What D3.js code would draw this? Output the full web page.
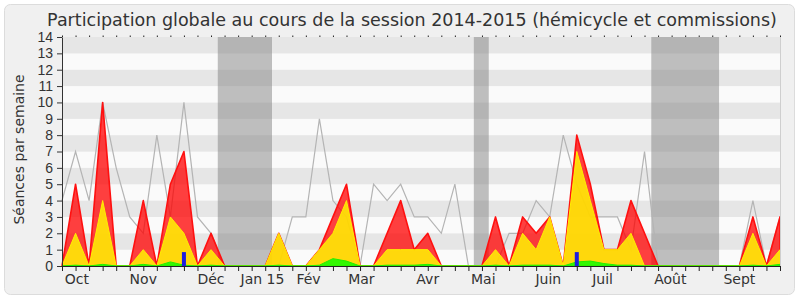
<!DOCTYPE html>
<html>
<head>
<meta charset="utf-8">
<script src="https://cdn.jsdelivr.net/npm/d3@7/dist/d3.min.js"></script>
<style>
  body { margin: 0; background: #fff; }
  svg { display: block; font-family: "DejaVu Sans", sans-serif; }
</style>
</head>
<body>
<svg id="chart" width="800" height="300"></svg>
<script>
// one value per week, from the start of the session (week 0) to the end (week 53)
const presences      = [0,5,0,10,0,0,4,0,5,7,0,2,0,0,0,0,2,0,0,1,3,5,0,0,2,4,1,2,0,0,0,0,3,0,3,2,3,0,8,5,1,1,4,2,0,0,0,0,0,0,0,3,0,3];
const participations = [0,2,0,4,0,0,1,0,3,2,0,1,0,0,0,0,2,0,0,1,2,4,0,0,1,1,1,1,0,0,0,0,1,0,2,1,3,0,7,4,1,1,2,0,0,0,0,0,0,0,0,2,0,1];
const interventions  = [0,0.05,0,0.1,0,0,0.1,0,0.25,0.05,0,0.05,0,0,0,0,0.05,0,0,0.05,0.45,0.3,0,0,0.05,0.05,0.05,0.1,0,0,0,0,0.05,0,0.05,0.05,0.05,0,0.25,0.3,0.15,0.05,0.05,0,0,0,0,0,0,0,0,0.05,0,0.1];
const mediane        = [4,7,4,10,6,3,2,8,3,10,3,2,0,0,0,0,0,3,3,9,4,3,0,5,4,5,3,3,2,5,0,0,0,2,2,4,3,8,5,3,3,3,1,7,0,0,0,0,0,0,0,4,0,3];
const questionWeeks  = [9, 38];
const questionValues = [0.85, 0.85];
const vacances       = [[11.5, 15.5], [30.4, 31.5], [43.5, 48.5]];
const monthLabels    = ["Oct", "Nov", "Déc", "Jan 15", "Fév", "Mar", "Avr", "Mai", "Juin", "Juil", "Août", "Sept"];
const monthWeeks     = [1.1, 6, 11, 14.8, 18.2, 22.1, 27, 31.1, 35.9, 39.9, 44.9, 50];
const yTicks         = d3.range(0, 15);

const svg = d3.select("#chart");
const x = d3.scaleLinear().domain([0, presences.length - 1]).range([62, 780]);
const y = d3.scaleLinear().domain([0, 14]).range([266, 37]);
const weeks = d3.range(presences.length);

// frame
svg.append("rect").attr("x", 4.5).attr("y", 4.5).attr("width", 790).attr("height", 290)
  .attr("rx", 6).attr("fill", "#f0f0f0").attr("stroke", "#dcdcdc");

// title
svg.append("text").attr("x", 412).attr("y", 26).attr("text-anchor", "middle")
  .attr("font-size", 17.5).attr("fill", "#333")
  .text("Participation globale au cours de la session 2014-2015 (hémicycle et commissions)");

// horizontal stripes
svg.append("g").selectAll("rect").data(d3.range(14)).join("rect")
  .attr("x", x(0)).attr("width", x(53) - x(0))
  .attr("y", d => y(d + 1)).attr("height", d => y(d) - y(d + 1))
  .attr("fill", d => d % 2 ? "#e6e6e6" : "#fafafa");

// holidays
svg.append("g").selectAll("rect").data(vacances).join("rect")
  .attr("x", d => x(d[0])).attr("width", d => x(d[1]) - x(d[0]))
  .attr("y", y(14)).attr("height", y(0) - y(14))
  .attr("fill", "#828282").attr("fill-opacity", 0.5);

// median line
svg.append("path").datum(mediane)
  .attr("d", d3.line().x((d, i) => x(i)).y(d => y(d)))
  .attr("fill", "none").attr("stroke", "#b4b4b4").attr("stroke-width", 1.2);

const area = d3.area().x((d, i) => x(i)).y0(y(0)).y1(d => y(d));

svg.append("path").datum(presences).attr("d", area)
  .attr("fill", "#ff0000").attr("fill-opacity", 0.75)
  .attr("stroke", "#ff1010").attr("stroke-width", 1.6).attr("stroke-linejoin", "round");

svg.append("path").datum(participations).attr("d", area)
  .attr("fill", "#ffff00").attr("fill-opacity", 0.8)
  .attr("stroke", "#ffee00").attr("stroke-width", 1);

svg.append("path").datum(interventions).attr("d", area)
  .attr("fill", "#00ff00").attr("fill-opacity", 0.8)
  .attr("stroke", "#22ee00").attr("stroke-width", 1);

// questions
svg.append("g").selectAll("rect").data(questionWeeks).join("rect")
  .attr("x", d => x(d) - 2).attr("width", 4)
  .attr("y", (d, i) => y(questionValues[i])).attr("height", (d, i) => y(0) - y(questionValues[i]))
  .attr("fill", "#1e1ee0");

// right border
svg.append("line").attr("x1", x(53) + 0.5).attr("x2", x(53) + 0.5).attr("y1", y(14)).attr("y2", y(0))
  .attr("stroke", "#cfcfcf");

// axes
const yAxis = svg.append("g").attr("transform", `translate(${x(0)},0)`)
  .call(d3.axisLeft(y).tickValues(yTicks).tickSize(5).tickPadding(4).tickSizeOuter(0));
yAxis.selectAll("text").attr("font-size", 14).attr("fill", "#333").attr("font-family", null);
yAxis.selectAll("line, path").attr("stroke", "#333");

const xAxis = svg.append("g").attr("transform", `translate(0,${y(0)})`)
  .call(d3.axisBottom(x).tickValues(weeks).tickSize(5).tickFormat("").tickSizeOuter(0));
xAxis.selectAll("line, path").attr("stroke", "#222");

const topTicks = svg.append("g").attr("transform", `translate(0,${y(14)})`)
  .call(d3.axisTop(x).tickValues(weeks).tickSize(1.5).tickFormat(""));
topTicks.select(".domain").remove();
topTicks.selectAll("line").attr("stroke", "#222");

svg.append("g").selectAll("text").data(monthLabels).join("text")
  .attr("x", (d, i) => x(monthWeeks[i])).attr("y", 284)
  .attr("text-anchor", "middle").attr("font-size", 14).attr("fill", "#333")
  .text(d => d);

svg.append("text").attr("transform", `translate(24,${(y(0) + y(14)) / 2 - 2}) rotate(-90)`)
  .attr("text-anchor", "middle").attr("font-size", 14).attr("fill", "#333")
  .text("Séances par semaine");
</script>
</body>
</html>
